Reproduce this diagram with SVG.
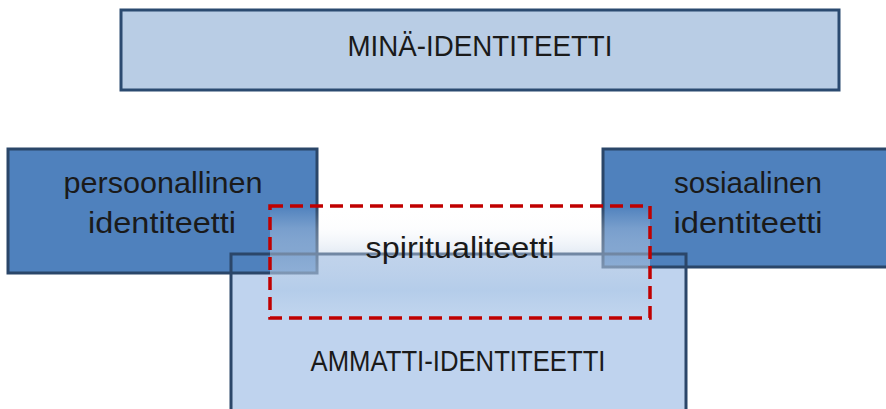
<svg xmlns="http://www.w3.org/2000/svg" width="886" height="409" viewBox="0 0 886 409">
  <defs>
    <linearGradient id="spiritGrad" x1="0" y1="0" x2="0" y2="1">
      <stop offset="0" stop-color="#ffffff" stop-opacity="0"/>
      <stop offset="0.2" stop-color="#f4f7fb" stop-opacity="0.25"/>
      <stop offset="0.42" stop-color="#c4d4e8" stop-opacity="0.45"/>
      <stop offset="0.75" stop-color="#b0cae8" stop-opacity="0.7"/>
      <stop offset="1" stop-color="#c2d6ee" stop-opacity="0.6"/>
    </linearGradient>
  </defs>
  <style>
    .lbl { font-family: "Liberation Sans", Arial, sans-serif; font-size: 29px; fill: #1a1a1a; text-anchor: middle; }
    .dark { fill: #4f81bd; stroke: #2a4669; stroke-width: 3; }
    .light { fill: #b9cde5; stroke: #2b4a70; stroke-width: 3; }
    .amm { fill: #bfd3ee; }
    .ammline { fill: none; stroke: #2b4669; stroke-width: 3; }
    .dash { fill: url(#spiritGrad); stroke: #c00000; stroke-width: 3.5; stroke-dasharray: 13 7; }
  </style>

  <g id="mina">
    <rect class="light" x="121" y="10" width="718" height="80"/>
    <text class="lbl" x="480" y="56" textLength="265" lengthAdjust="spacingAndGlyphs">MINÄ-IDENTITEETTI</text>
  </g>

  <g id="ammatti">
    <rect class="amm" x="231" y="254" width="455" height="165"/>
    <text class="lbl" x="458" y="371" textLength="295" lengthAdjust="spacingAndGlyphs">AMMATTI-IDENTITEETTI</text>
  </g>

  <g id="persoonallinen">
    <rect class="dark" x="8" y="149" width="309" height="124"/>
    <text class="lbl" x="163" y="193" textLength="199" lengthAdjust="spacingAndGlyphs">persoonallinen</text>
    <text class="lbl" x="162" y="233" textLength="148" lengthAdjust="spacingAndGlyphs">identiteetti</text>
  </g>

  <g id="sosiaalinen">
    <rect class="dark" x="603" y="149" width="290" height="118"/>
    <text class="lbl" x="748" y="193" textLength="148" lengthAdjust="spacingAndGlyphs">sosiaalinen</text>
    <text class="lbl" x="748" y="233" textLength="149" lengthAdjust="spacingAndGlyphs">identiteetti</text>
  </g>

  <g id="ammatti-outline">
    <rect class="ammline" x="231" y="254" width="455" height="165"/>
  </g>

  <g id="spiritualiteetti">
    <rect class="dash" x="270" y="206" width="380" height="112"/>
    <text class="lbl" x="460" y="258" textLength="189" lengthAdjust="spacingAndGlyphs">spiritualiteetti</text>
  </g>

  <g id="connectors"></g>
</svg>
